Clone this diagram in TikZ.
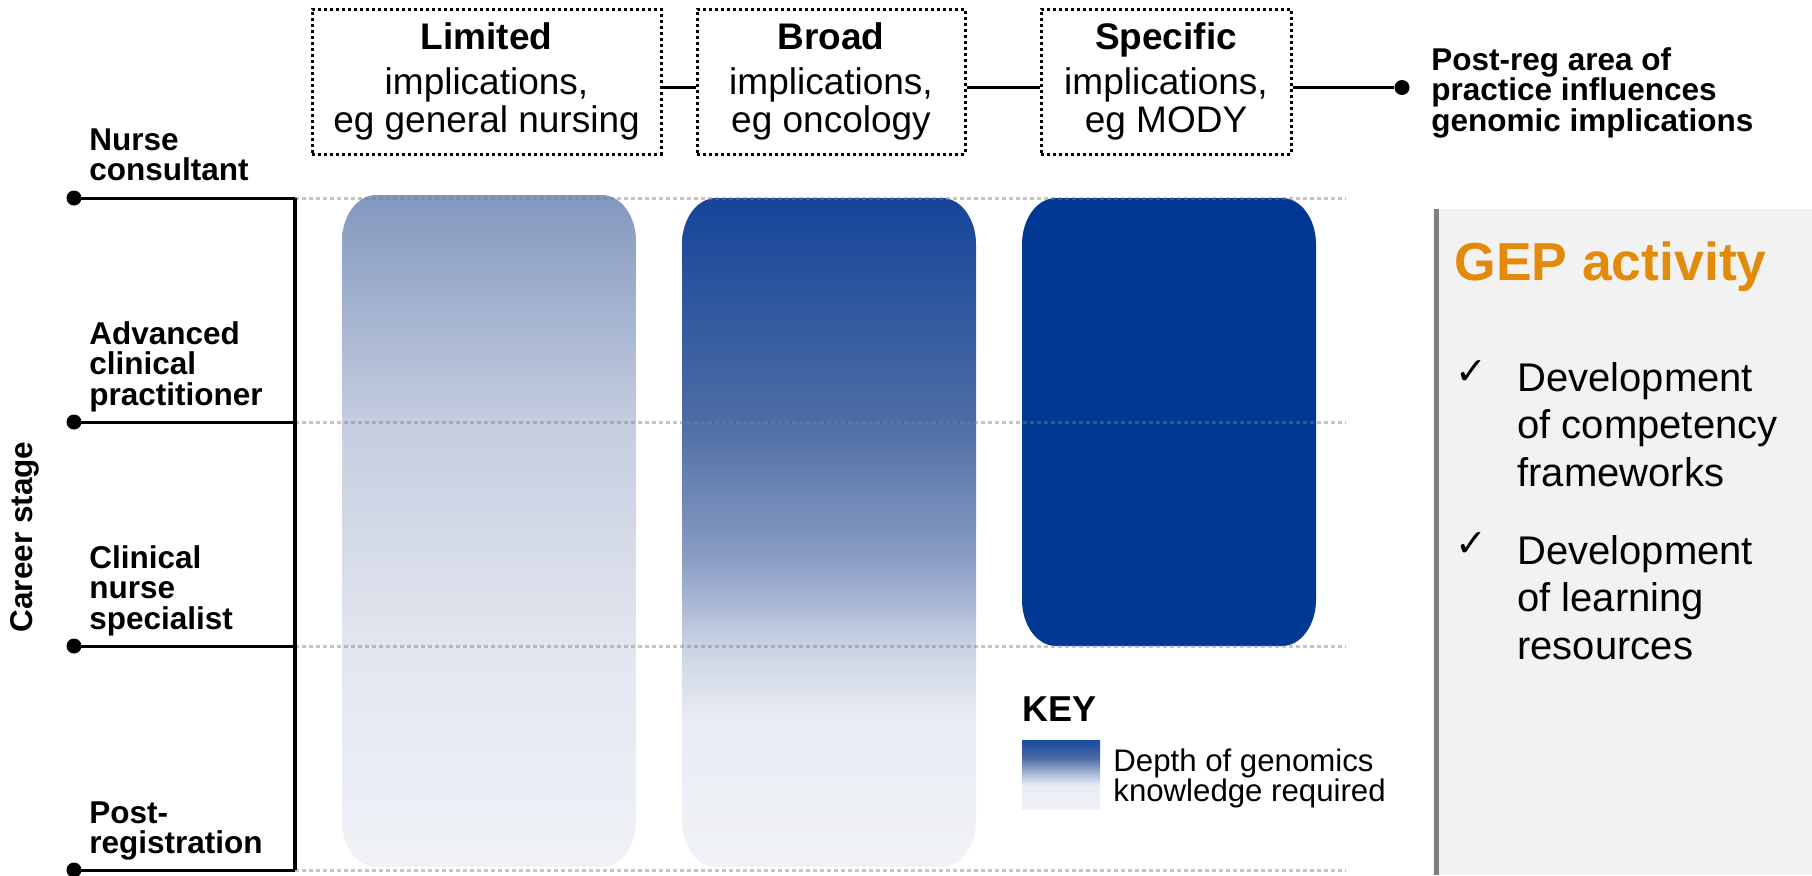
\documentclass[tikz,border=0pt]{standalone}
\usepackage{fontspec}
\setmainfont{Liberation Sans}
\newfontfamily\symfont{DejaVu Sans}
\usepackage{xcolor}
\usepackage{tikz}

\definecolor{gepnavy}{HTML}{003894}
\definecolor{geporange}{HTML}{E38A0B}
\definecolor{geppanel}{HTML}{F2F2F2}
\definecolor{gepborder}{HTML}{7F7F7F}
\definecolor{geplight}{HTML}{F0F2F7}
\definecolor{limA}{HTML}{8398BF}
\definecolor{limB}{HTML}{C5CDDF}
\definecolor{limC}{HTML}{E2E6EF}
\definecolor{broA}{HTML}{15449A}
\definecolor{broB}{HTML}{4C6CA5}
\definecolor{broC}{HTML}{8A9DC3}
\definecolor{broD}{HTML}{CAD3E3}
\definecolor{broE}{HTML}{E9ECF3}
\definecolor{keyA}{HTML}{1A4B9E}
\definecolor{keyB}{HTML}{4B6BA6}
\definecolor{keyC}{HTML}{B0BED8}

\pgfdeclareverticalshading{limitedshade}{100bp}{color(0bp)=(geplight); color(25bp)=(geplight);
  color(41.5bp)=(limC); color(58bp)=(limB); color(75bp)=(limA); color(100bp)=(limA)}
\pgfdeclareverticalshading{broadshade}{100bp}{color(0bp)=(geplight); color(25bp)=(geplight);
  color(36bp)=(broE); color(41.5bp)=(broD); color(48bp)=(broC); color(58.5bp)=(broB);
  color(75bp)=(broA); color(100bp)=(broA)}
\pgfdeclareverticalshading{keyshade}{100bp}{color(0bp)=(geplight); color(25bp)=(geplight);
  color(42bp)=(broE); color(50bp)=(keyC); color(62bp)=(keyB); color(75bp)=(keyA); color(100bp)=(keyA)}

% rounded bar with oval corners: options, x1, y1, x2, y2
\newcommand{\roundbar}[5]{%
  \path[#1] (#2,#3+46) .. controls (#2,#3+21) and (#2+15,#3) .. (#2+34,#3)
    -- (#4-34,#3) .. controls (#4-15,#3) and (#4,#3+21) .. (#4,#3+46)
    -- (#4,#5-46) .. controls (#4,#5-21) and (#4-15,#5) .. (#4-34,#5)
    -- (#2+34,#5) .. controls (#2+15,#5) and (#2,#5-21) .. (#2,#5-46) -- cycle;}

\begin{document}
\begin{tikzpicture}[x=0.5pt,y=-0.5pt,
    implbox/.style={draw, line width=1.5pt, dash pattern=on 1.5pt off 1.5pt, minimum height=72.5pt,
      inner sep=0, align=center, font=\fontsize{18.5}{18.8}\selectfont},
    stagedot/.style={circle, fill=black, inner sep=0, minimum size=7.5pt},
    stagelabel/.style={anchor=north west, inner sep=0, align=left, font=\fontsize{15.75}{15.3}\selectfont\bfseries},
    gridline/.style={draw=black!50, opacity=0.45, line width=1.5pt, dash pattern=on 2pt off 1.5pt},
    gepitem/.style={anchor=north west, inner sep=0, align=left, font=\fontsize{20}{23.7}\selectfont},
    checkmk/.style={inner sep=0, font=\symfont\fontsize{19}{19}\selectfont}]
  \useasboundingbox (0,0) rectangle (1812,875);

  % implication boxes
  \node[implbox, minimum width=174.5pt] (lim) at (486.5,81.5) {\textbf{Limited}\\[3.5pt]implications,\\eg general nursing};
  \node[implbox, minimum width=134pt] (broad) at (831,81.5) {\textbf{Broad}\\[3.5pt]implications,\\eg oncology};
  \node[implbox, minimum width=125pt] (spec) at (1166,81.5) {\textbf{Specific}\\[3.5pt]implications,\\eg MODY};
  \node[stagedot] (regdot) at (1402,87.5) {};
  \node[stagelabel] (postreg) at (1431,47) {Post-reg area of\\practice influences\\genomic implications};
  \draw[line width=1.5pt] ([yshift=-3pt]lim.east) -- ([yshift=-3pt]broad.west);
  \draw[line width=1.5pt] ([yshift=-3pt]broad.west -| broad.east) -- ([yshift=-3pt]spec.west);
  \draw[line width=1.5pt] ([yshift=-3pt]spec.east) -- (regdot);

  % depth bars
  \roundbar{shading=limitedshade}{342}{195}{636}{867}
  \roundbar{shading=broadshade}{682}{198}{976}{867}
  \roundbar{fill=gepnavy}{1022}{198}{1316}{646}

  % career stages
  \foreach \i/\y in {1/198,2/422,3/646,4/870}{
    \node[stagedot] (d\i) at (74,\y) {};
    \coordinate (a\i) at (295,\y);
    \coordinate (g\i) at (1346,\y);
    \draw[gridline] (a\i) -- (g\i);
    \draw[line width=1.5pt] (d\i.center) -- (a\i);
  }
  \draw[line width=2pt] (a1) -- (a4);
  \node[stagelabel] (nc) at (89,128) {Nurse\\consultant};
  \node[stagelabel] (acp) at (89,321) {Advanced\\clinical\\practitioner};
  \node[stagelabel] (cns) at (89,545) {Clinical\\nurse\\specialist};
  \node[stagelabel] (preg) at (89,801) {Post-\\registration};
  \node[rotate=90, inner sep=0, font=\fontsize{15.75}{15}\selectfont\bfseries] (career) at (25,537) {Career stage};

  % key
  \node[anchor=base west, inner sep=0, font=\fontsize{18}{18}\selectfont\bfseries] (keytitle) at (1022,721) {KEY};
  \path[shading=keyshade] (1022,740) rectangle (1100,809);
  \node[anchor=north west, inner sep=0, align=left, font=\fontsize{15.6}{15}\selectfont] (keytext) at (1113,748) {Depth of genomics\\knowledge required};

  % GEP panel
  \fill[geppanel] (1433,209) rectangle (1812,875);
  \draw[gepborder, line width=2.5pt] (1436,209) -- (1436,875);
  \node[anchor=base west, inner sep=0, text=geporange, font=\fontsize{26.75}{30}\selectfont\bfseries] (geptitle) at (1454,280) {GEP activity};
  \node[checkmk] (chk1) at (1471,373) {✓};
  \node[gepitem] (item1) at (1517,362) {Development\\of competency\\frameworks};
  \node[checkmk] (chk2) at (1471,545) {✓};
  \node[gepitem] (item2) at (1517,535) {Development\\of learning\\resources};
\end{tikzpicture}
\end{document}
